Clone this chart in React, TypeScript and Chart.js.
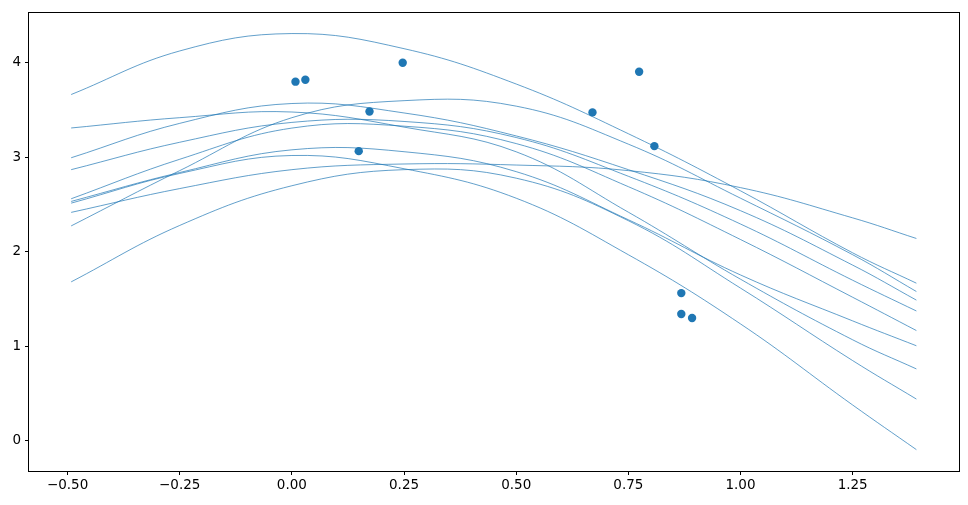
import React, { useEffect, useRef } from "react";
import { Chart, registerables } from "chart.js";

Chart.register(...registerables);

// x positions at which each sampled curve was read
const curveX = [-0.492, -0.25, 0, 0.25, 0.5, 0.75, 1.0, 1.25, 1.392];

// sampled curves (y values read at curveX)
const curveA = [3.665, 4.126, 4.31, 4.15, 3.776, 3.25, 2.646, 1.99, 1.669];
const curveB = [3.311, 3.42, 3.48, 3.32, 3.059, 2.42, 1.711, 1.07, 0.762];
const curveC = [2.996, 3.36, 3.57, 3.47, 3.227, 2.87, 2.436, 1.86, 1.49];
const curveD = [2.87, 3.16, 3.37, 3.38, 3.21, 2.8, 2.295, 1.7, 1.375];
const curveE = [2.562, 2.98, 3.31, 3.33, 3.146, 2.69, 2.131, 1.52, 1.168];
const curveF = [2.534, 2.84, 3.08, 3.06, 2.849, 2.34, 1.756, 1.27, 1.007];
const curveG = [2.516, 2.83, 3.02, 2.88, 2.568, 1.97, 1.238, 0.38, -0.092];
const curveH = [2.418, 2.67, 2.87, 2.93, 2.919, 2.86, 2.68, 2.36, 2.142];
const curveI = [2.275, 2.86, 3.42, 3.6, 3.542, 3.14, 2.568, 1.97, 1.581];
const curveJ = [1.683, 2.28, 2.7, 2.87, 2.78, 2.33, 1.617, 0.85, 0.443];
const curves = [curveA, curveB, curveC, curveD, curveE, curveF, curveG, curveH, curveI, curveJ];

// observed points
const pointsX = [0.008, 0.03, 0.247, 0.173, 0.149, 0.67, 0.774, 0.808, 0.868, 0.868, 0.892];
const pointsY = [3.801, 3.822, 4.001, 3.486, 3.066, 3.476, 3.906, 3.119, 1.564, 1.343, 1.301];

// axis ticks and limits
const xTicks = [-0.5, -0.25, 0, 0.25, 0.5, 0.75, 1.0, 1.25];
const yTicks = [0, 1, 2, 3, 4];
const xLimits = [-0.586, 1.487];
const yLimits = [-0.318, 4.537];

const BLUE = "#1f77b4";

const framePlugin = {
  id: "frame",
  afterDraw(chart: any) {
    const { ctx, chartArea } = chart;
    const l = Math.round(chartArea.left) - 0.5;
    const t = Math.round(chartArea.top) + 0.5;
    const r = Math.round(chartArea.right) + 0.5;
    const b = Math.round(chartArea.bottom) + 0.5;
    ctx.save();
    ctx.strokeStyle = "#000";
    ctx.lineWidth = 1;
    ctx.strokeRect(l, t, r - l, b - t);
    ctx.restore();
  },
};

export default function App() {
  const ref = useRef<HTMLCanvasElement | null>(null);

  useEffect(() => {
    if (!ref.current) return;
    const datasets: any[] = [
      {
        label: "data",
        data: pointsX.map((x, i) => ({ x, y: pointsY[i] })),
        backgroundColor: BLUE,
        borderColor: BLUE,
        pointRadius: 4.2,
        pointBorderWidth: 0,
        showLine: false,
      },
    ];
    curves.forEach((c, k) => {
      datasets.push({
        label: "curve" + k,
        data: curveX.map((x, i) => ({ x, y: c[i] })),
        borderColor: BLUE,
        borderWidth: 0.7,
        pointRadius: 0,
        showLine: true,
        tension: 0.4,
        fill: false,
      });
    });

    const tickFont = { family: "'DejaVu Sans', sans-serif", size: 13.5 };
    const minus = (v: string) => v.replace("-", "\u2212");

    const chart = new Chart(ref.current, {
      type: "scatter",
      data: { datasets },
      plugins: [framePlugin],
      options: {
        animation: false,
        responsive: false,
        events: [],
        layout: { padding: { left: 0, top: 9, right: 9, bottom: 0 } },
        plugins: { legend: { display: false }, tooltip: { enabled: false } },
        scales: {
          x: {
            type: "linear",
            min: xLimits[0],
            max: xLimits[1],
            afterBuildTicks: (s: any) => {
              s.ticks = xTicks.map((v) => ({ value: v }));
            },
            afterFit: (s: any) => {
              s.height = 34;
            },
            ticks: {
              color: "#000",
              font: tickFont,
              padding: 2,
              maxRotation: 0,
              autoSkip: false,
              callback: (v: any) => minus(Number(v).toFixed(2)),
            },
            grid: {
              display: true,
              drawOnChartArea: false,
              drawTicks: true,
              tickLength: 4,
              tickColor: "#000",
              tickWidth: 1,
            },
            border: { display: false },
          },
          y: {
            type: "linear",
            min: yLimits[0],
            max: yLimits[1],
            afterBuildTicks: (s: any) => {
              s.ticks = yTicks.map((v) => ({ value: v }));
            },
            afterFit: (s: any) => {
              s.width = 29;
            },
            ticks: {
              color: "#000",
              font: tickFont,
              padding: 4,
              autoSkip: false,
              callback: (v: any) => minus(String(Number(v))),
            },
            grid: {
              display: true,
              drawOnChartArea: false,
              drawTicks: true,
              tickLength: 4,
              tickColor: "#000",
              tickWidth: 1,
            },
            border: { display: false },
          },
        },
      },
    } as any);
    return () => chart.destroy();
  }, []);

  return (
    <div style={{ position: "absolute", left: 0, top: 0, width: 968, height: 505, background: "#fff" }}>
      <canvas ref={ref} width={968} height={505} style={{ width: 968, height: 505, display: "block" }} />
    </div>
  );
}
